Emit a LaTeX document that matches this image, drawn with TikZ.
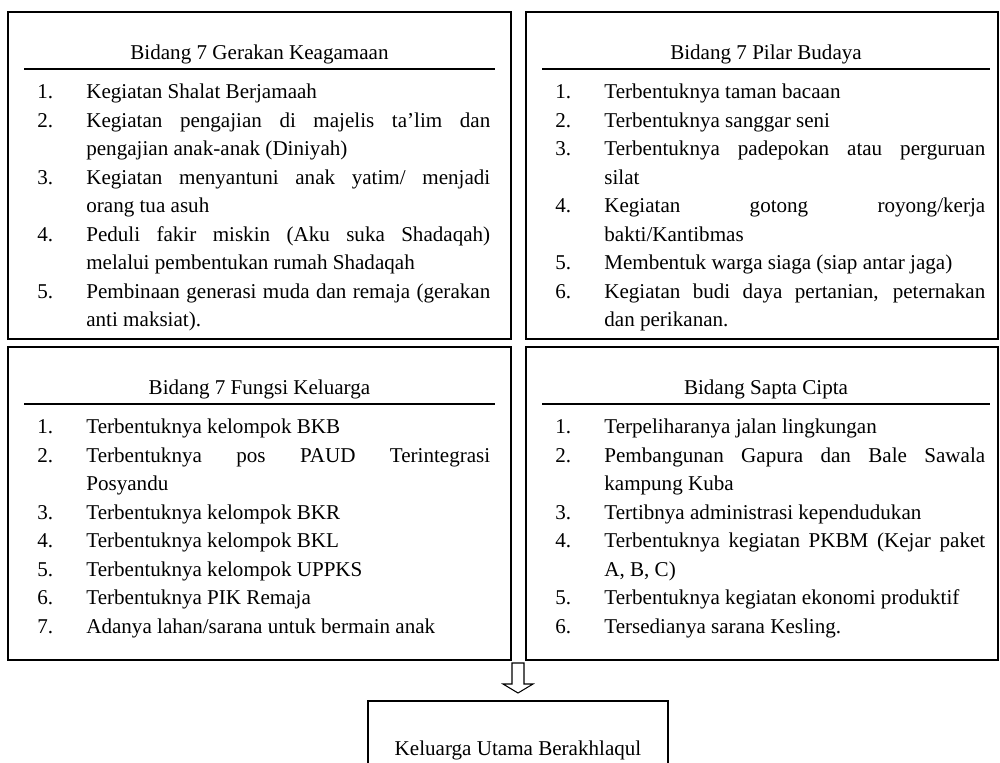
\documentclass[tikz,border=0pt]{standalone}
\usepackage{fontspec}
\setmainfont{Liberation Serif}
\usetikzlibrary{positioning}
\tikzset{
field/.style={draw, line width=0.9pt, inner sep=0pt}, % frame round each field
title/.style={anchor=base, inner sep=0pt, font=\fontsize{12pt}{16.2pt}\selectfont}, % heading of a field
rule/.style={line width=0.9pt}, % line under a heading
list/.style={anchor=north west, inner sep=0pt, align=justify, font=\fontsize{12pt}{16.2pt}\selectfont}, % numbered points
goal/.style={draw, line width=0.9pt, minimum width=6cm, minimum height=1.96cm, font=\fontsize{12pt}{16.2pt}\selectfont}, % box at the bottom
arrow/.style={draw, line width=0.6pt, fill=white}, % hollow block arrow
}
\newcommand{\itm}[2]{\par\hangindent=0.98cm\hangafter=1\noindent\makebox[0.98cm][l]{\strut#1}#2\par}
\hyphenpenalty=10000
\exhyphenpenalty=10000
\tolerance=10000

\begin{document}
\begin{tikzpicture}[x=0.02cm, y=-0.02cm]
\useasboundingbox (0,0) rectangle (1000,762);
\clip (0,0) rectangle (1000,762);

% the four fields
\node[field, minimum width=10.06cm, minimum height=6.54cm] (b1) at (259.5,175.5) {};
\node[field, minimum width=9.44cm, minimum height=6.54cm] (b2) at (762,175.5) {};
\node[field, minimum width=10.06cm, minimum height=6.26cm] (b3) at (259.5,503.5) {};
\node[field, minimum width=9.44cm, minimum height=6.26cm] (b4) at (762,503.5) {};

% headings
\node[title] (t1) at (259.5,59) {Bidang 7 Gerakan Keagamaan};
\node[title] (t2) at (766,59) {Bidang 7 Pilar Budaya};
\node[title] (t3) at (259.5,394) {Bidang 7 Fungsi Keluarga};
\node[title] (t4) at (766,394) {Bidang Sapta Cipta};
\draw[rule] (24,69) -- (495,69);
\draw[rule] (542,69) -- (990,69);
\draw[rule] (24,404) -- (495,404);
\draw[rule] (542,404) -- (990,404);

% points
\node[list, text width=9.06cm] (l1) at (37,70) {%
\itm{1.}{Kegiatan Shalat Berjamaah}
\itm{2.}{Kegiatan pengajian di majelis ta’lim dan\linebreak pengajian anak-anak (Diniyah)}
\itm{3.}{Kegiatan menyantuni anak yatim/ menjadi\linebreak orang tua asuh}
\itm{4.}{Peduli fakir miskin (Aku suka Shadaqah)\linebreak melalui pembentukan rumah Shadaqah}
\itm{5.}{Pembinaan generasi muda dan remaja (gerakan\linebreak anti maksiat).}};
\node[list, text width=8.6cm] (l2) at (555,70) {%
\itm{1.}{Terbentuknya taman bacaan}
\itm{2.}{Terbentuknya sanggar seni}
\itm{3.}{Terbentuknya padepokan atau perguruan\linebreak silat}
\itm{4.}{Kegiatan gotong royong/kerja\linebreak bakti/Kantibmas}
\itm{5.}{Membentuk warga siaga (siap antar jaga)}
\itm{6.}{Kegiatan budi daya pertanian, peternakan\linebreak dan perikanan.}};
\node[list, text width=9.06cm] (l3) at (37,405) {%
\itm{1.}{Terbentuknya kelompok BKB}
\itm{2.}{Terbentuknya pos PAUD Terintegrasi\linebreak Posyandu}
\itm{3.}{Terbentuknya kelompok BKR}
\itm{4.}{Terbentuknya kelompok BKL}
\itm{5.}{Terbentuknya kelompok UPPKS}
\itm{6.}{Terbentuknya PIK Remaja}
\itm{7.}{Adanya lahan/sarana untuk bermain anak}};
\node[list, text width=8.6cm] (l4) at (555,405) {%
\itm{1.}{Terpeliharanya jalan lingkungan}
\itm{2.}{Pembangunan Gapura dan Bale Sawala\linebreak kampung Kuba}
\itm{3.}{Tertibnya administrasi kependudukan}
\itm{4.}{Terbentuknya kegiatan PKBM (Kejar paket\linebreak A, B, C)}
\itm{5.}{Terbentuknya kegiatan ekonomi produktif}
\itm{6.}{Tersedianya sarana Kesling.}};

% result
\node[goal] (utama) at (518,750) {Keluarga Utama Berakhlaqul};
\coordinate (gap) at (518,660);
\draw[arrow, shift={(gap)}] (-6,3) -- (6,3) -- (6,24) -- (15,24) -- (0,33) -- (-15,24) -- (-6,24) -- cycle;
\end{tikzpicture}
\end{document}
